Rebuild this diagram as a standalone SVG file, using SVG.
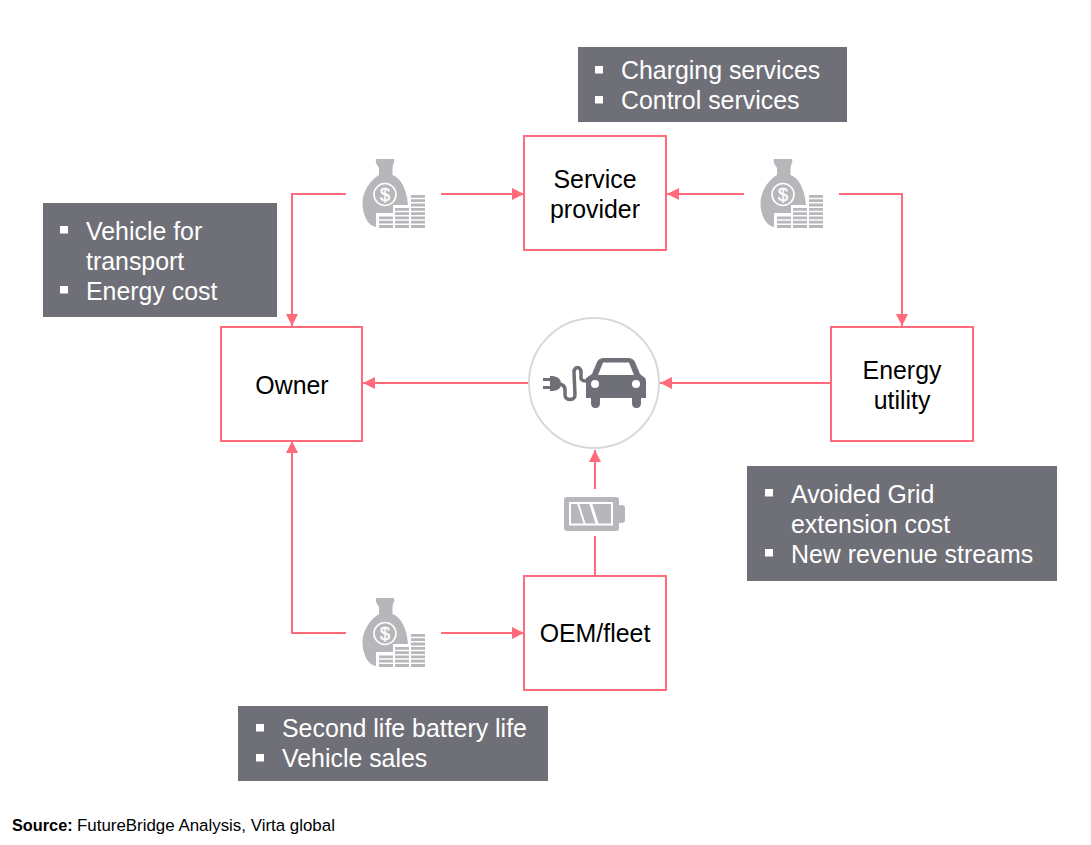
<svg xmlns="http://www.w3.org/2000/svg" width="1091" height="845" viewBox="0 0 1091 845">
<style>
text{font-family:"Liberation Sans",Arial,sans-serif}
.node{fill:#fff;stroke:#ff6b7a;stroke-width:2}
.nt{font-size:24.9px;fill:#000;text-anchor:middle}
.box{fill:#6f6f77}
.bt{font-size:24.9px;fill:#fff}
.bul{fill:#fff}
.conn{fill:none;stroke:#ff6b7a;stroke-width:2}
.ic{fill:#b7b7bb}
.dk{fill:#6f6f77}
</style>
<defs>
<marker id="a" markerUnits="userSpaceOnUse" markerWidth="12" markerHeight="12" refX="12" refY="6" orient="auto">
<path d="M0 0L12 6L0 12Z" fill="#ff6b7a"/>
</marker>
<symbol id="money" overflow="visible">
<path class="ic" d="M376 159H394Q395 162 393 165L392.500 168V175C401 178 407 190 408 205H393V213H376V227C368 226 362.500 215 362.500 203C362.500 192 370 180 379 175V168L377 165Q375 162 376 159Z"/>
<circle cx="385" cy="194.500" r="11" fill="none" stroke="#fff" stroke-width="1.600"/>
<text x="385" y="201" font-size="18" fill="#fff" text-anchor="middle" stroke="#fff" stroke-width="0.400">$</text>
<path class="ic" d="M379 216.500h14v2.800h-14zM379 220.800h14v2.800h-14zM379 225.100h14v2.800h-14zM395 207.900h14v2.800h-14zM395 212.200h14v2.800h-14zM395 216.500h14v2.800h-14zM395 220.800h14v2.800h-14zM395 225.100h14v2.800h-14zM411 195h14v2.800h-14zM411 199.300h14v2.800h-14zM411 203.600h14v2.800h-14zM411 207.900h14v2.800h-14zM411 212.200h14v2.800h-14zM411 216.500h14v2.800h-14zM411 220.800h14v2.800h-14zM411 225.100h14v2.800h-14z"/>
</symbol>
</defs>
<rect width="1091" height="845" fill="#fff"/>
<g id="connectors">
<path class="conn" d="M346 194H292V326" marker-end="url(#a)"/>
<path class="conn" d="M441 194H524" marker-end="url(#a)"/>
<path class="conn" d="M744 194H667" marker-end="url(#a)"/>
<path class="conn" d="M839 194H902V326" marker-end="url(#a)"/>
<path class="conn" d="M830 383H660" marker-end="url(#a)"/>
<path class="conn" d="M528 383H363" marker-end="url(#a)"/>
<path class="conn" d="M595 576V536"/>
<path class="conn" d="M595 489V450" marker-end="url(#a)"/>
<path class="conn" d="M346 633H292V441" marker-end="url(#a)"/>
<path class="conn" d="M441 633H524" marker-end="url(#a)"/>
</g>
<g id="service-provider"><rect class="node" x="524" y="136" width="142" height="114"/><text class="nt" x="595" y="187.500">Service</text><text class="nt" x="595" y="217.500">provider</text></g>
<g id="owner"><rect class="node" x="221" y="327" width="141" height="114"/><text class="nt" x="292" y="393.500">Owner</text></g>
<g id="energy-utility"><rect class="node" x="831" y="327" width="142" height="114"/><text class="nt" x="902" y="378.500">Energy</text><text class="nt" x="902" y="408.500">utility</text></g>
<g id="oem-fleet"><rect class="node" x="524" y="576" width="142" height="114"/><text class="nt" x="595" y="641.500">OEM/fleet</text></g>
<g id="ev-hub">
<circle cx="594" cy="383" r="65" fill="#fff" stroke="#d9d9dc" stroke-width="2"/>
<path class="dk" d="M586 378L592 374L597 362Q599 358 604 358H628Q633 358 635 362L640 374L645 378Q646 379 646 381V398H641V403Q641 408 636.500 408Q632 408 632 403V398H600V403Q600 408 595.500 408Q591 408 591 403V398H586Z"/>
<path d="M603 362.500H629L634 375H598Z" fill="#fff"/>
<circle cx="595" cy="384" r="4" fill="#fff"/><circle cx="636" cy="384" r="4" fill="#fff"/>
<path class="dk" d="M543 378h7v3h-7zM543 386h7v3h-7zM550 376h3q8 1 8 8q0 6-8 7h-3z"/>
<path d="M558 384C563 384 565 386 565 390V395C565 401 575 401 575 395L574 372C574 366 581 366 581 372V378C581 381 584 381 587 381" fill="none" stroke="#6f6f77" stroke-width="3.500"/>
</g>
<g id="battery">
<rect class="ic" x="564" y="497" width="55" height="34" rx="3"/>
<path class="ic" d="M619 505h3q3 0 3 3v12q0 3-3 3h-3z"/>
<rect x="569" y="502" width="44" height="23.500" fill="#fff"/>
<rect class="ic" x="571" y="504" width="40" height="19.500"/>
<path d="M577 503L584 525H586L579 503ZM589 503L596 525H599L592 503Z" fill="#fff"/>
</g>
<g id="money-1"><use href="#money"/></g>
<g id="money-2"><use href="#money" x="398"/></g>
<g id="money-3"><use href="#money" y="439"/></g>
<g id="note-service"><rect class="box" x="578" y="47" width="269" height="75"/><rect class="bul" x="595" y="66" width="8" height="7.500"/><rect class="bul" x="595" y="96" width="8" height="7.500"/><text class="bt" x="621" y="78.500">Charging services</text><text class="bt" x="621" y="108.500">Control services</text></g>
<g id="note-owner"><rect class="box" x="43" y="203" width="234" height="114"/><rect class="bul" x="60" y="226" width="8" height="7.500"/><rect class="bul" x="60" y="286" width="8" height="7.500"/><text class="bt" x="86" y="239.500">Vehicle for</text><text class="bt" x="86" y="269.500">transport</text><text class="bt" x="86" y="299.500">Energy cost</text></g>
<g id="note-utility"><rect class="box" x="747" y="466" width="310" height="115"/><rect class="bul" x="765" y="489" width="8" height="7.500"/><rect class="bul" x="765" y="549" width="8" height="7.500"/><text class="bt" x="791" y="502.500">Avoided Grid</text><text class="bt" x="791" y="532.500">extension cost</text><text class="bt" x="791" y="562.500">New revenue streams</text></g>
<g id="note-oem"><rect class="box" x="238" y="706" width="310" height="75"/><rect class="bul" x="256" y="724" width="8" height="7.500"/><rect class="bul" x="256" y="754" width="8" height="7.500"/><text class="bt" x="282" y="736.500">Second life battery life</text><text class="bt" x="282" y="766.500">Vehicle sales</text></g>
<text x="12" y="831" font-size="16.300" font-weight="bold" fill="#000">Source:</text>
<text x="77" y="831" font-size="16.900" fill="#000">FutureBridge Analysis, Virta global</text>
</svg>
